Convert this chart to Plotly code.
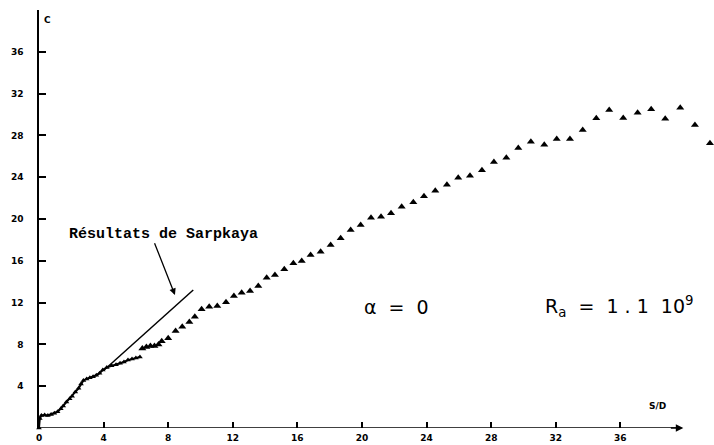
import plotly.graph_objects as go

# ---- data ----
early_x = [0.0, 0.05, 0.15, 0.35, 0.55, 0.75, 0.95, 1.15, 1.35, 1.5, 1.7, 1.9, 2.05, 2.25, 2.45,
           2.6, 2.75, 2.95, 3.15, 3.35, 3.55, 3.75, 3.95, 4.2, 4.5, 4.77, 5.02, 5.26, 5.51, 5.76,
           6.0, 6.25]
early_y = [0.0, 0.9, 1.2, 1.25, 1.2, 1.3, 1.4, 1.55, 1.85, 2.1, 2.5, 2.8, 3.05, 3.45, 3.8,
           4.2, 4.55, 4.7, 4.8, 4.9, 5.05, 5.25, 5.55, 5.8, 5.95, 6.05, 6.2, 6.32, 6.5, 6.6,
           6.7, 6.8]

main_x = [6.4, 6.65, 6.9, 7.15, 7.4, 7.6, 8.0, 8.46, 8.87, 9.31, 9.65, 10.07, 10.54, 11.04,
          11.58, 12.07, 12.55, 13.07, 13.58, 14.10, 14.61, 15.19, 15.75, 16.27, 16.82, 17.44,
          18.06, 18.68, 19.30, 19.92, 20.56, 21.18, 21.80, 22.46, 23.18, 23.84, 24.54, 25.26,
          25.96, 26.69, 27.43, 28.17, 28.94, 29.68, 30.46, 31.29, 32.06, 32.88, 33.67, 34.51,
          35.31, 36.18, 37.07, 37.91, 38.78, 39.71, 40.62, 41.55]
main_y = [7.6, 7.75, 7.85, 7.85, 8.0, 8.3, 8.58, 9.28, 9.69, 10.14, 10.65, 11.36, 11.61, 11.67,
          12.03, 12.63, 12.95, 13.11, 13.59, 14.38, 14.64, 15.19, 15.76, 15.98, 16.56, 16.87,
          17.51, 18.15, 18.95, 19.43, 20.12, 20.22, 20.55, 21.18, 21.60, 22.17, 22.71, 23.28,
          23.95, 24.14, 24.66, 25.45, 25.87, 26.79, 27.40, 27.11, 27.66, 27.66, 28.52, 29.64,
          30.43, 29.67, 30.17, 30.50, 29.60, 30.65, 29.00, 27.24]

sarpkaya_x = [4.0, 9.55]
sarpkaya_y = [5.5, 13.2]

x_tickvals = [0, 4, 8, 12, 16, 20, 24, 28, 32, 36]
x_ticktext = ["0", "4", "8", "12", "16", "20", "24", "28", "32", "36"]
y_tickvals = [4, 8, 12, 16, 20, 24, 28, 32, 36]
y_ticktext = ["4", "8", "12", "16", "20", "24", "28", "32", "36"]
x_axis_end = 39.6

tickfont = dict(family="DejaVu Sans", size=9, color="black", weight="bold")

fig = go.Figure()
fig.add_trace(go.Scatter(x=early_x, y=early_y, mode="lines+markers",
                         line=dict(color="black", width=2),
                         marker=dict(symbol="triangle-up", size=5, color="black"),
                         cliponaxis=False, showlegend=False))
fig.add_trace(go.Scatter(x=main_x, y=main_y, mode="markers",
                         marker=dict(symbol="triangle-up", size=7, color="black"),
                         cliponaxis=False, showlegend=False))
fig.add_trace(go.Scatter(x=sarpkaya_x, y=sarpkaya_y, mode="lines",
                         line=dict(color="black", width=1.5),
                         cliponaxis=False, showlegend=False))

fig.update_layout(
    width=714, height=445,
    margin=dict(l=39, r=0, t=10, b=17),
    paper_bgcolor="white", plot_bgcolor="white",
    xaxis=dict(range=[0, 41.8], showgrid=False, zeroline=False,
               showline=False,
               ticks="inside", ticklen=6, tickwidth=1.5, tickcolor="black",
               tickvals=x_tickvals, ticktext=x_ticktext, tickfont=tickfont,
               ticklabelstandoff=3),
    yaxis=dict(range=[0, 40.0], showgrid=False, zeroline=False,
               showline=True, linecolor="black", linewidth=1.5,
               ticks="inside", ticklen=7, tickwidth=1.5, tickcolor="black",
               tickvals=y_tickvals, ticktext=y_ticktext, tickfont=tickfont,
               ticklabelstandoff=12),
)

# x axis line with arrow
fig.add_shape(type="line", x0=0, y0=0, x1=x_axis_end, y1=0, xref="x", yref="y",
              line=dict(color="black", width=1.5))
fig.add_annotation(x=x_axis_end + 0.3, y=0, ax=-14, ay=0, xref="x", yref="y",
                   showarrow=True, arrowhead=2, arrowsize=1, arrowwidth=1.5,
                   arrowcolor="black", text="")
# arrow to Sarpkaya line
fig.add_annotation(x=8.42, y=12.73, ax=7.12, ay=17.83, xref="x", yref="y",
                   axref="x", ayref="y", showarrow=True, arrowhead=2,
                   arrowsize=1, arrowwidth=1.3, arrowcolor="black", text="")

fig.add_annotation(x=1.73, y=18.56, xref="x", yref="y", xanchor="left", yanchor="middle",
                   text="Résultats de Sarpkaya", showarrow=False,
                   font=dict(family="Liberation Mono", size=15, color="black", weight="bold"))
fig.add_annotation(x=0.2, y=39.0, xref="x", yref="y", xanchor="left", yanchor="middle",
                   text="C", showarrow=False,
                   font=dict(family="DejaVu Sans", size=9, color="black", weight="bold"))
fig.add_annotation(x=38.3, y=2.1, xref="x", yref="y", xanchor="center", yanchor="middle",
                   text="S/D", showarrow=False,
                   font=dict(family="DejaVu Sans", size=9, color="black", weight="bold"))
fig.add_annotation(x=20.0, y=11.6, xref="x", yref="y", xanchor="left", yanchor="middle",
                   text="α  =  0", showarrow=False,
                   font=dict(family="DejaVu Sans", size=19, color="black"))
fig.add_annotation(x=31.2, y=11.6, xref="x", yref="y", xanchor="left", yanchor="middle",
                   text="R<sub>a</sub>  =  1 . 1  10<sup>9</sup>", showarrow=False,
                   font=dict(family="DejaVu Sans", size=19, color="black"))

fig.write_html("out.html")
